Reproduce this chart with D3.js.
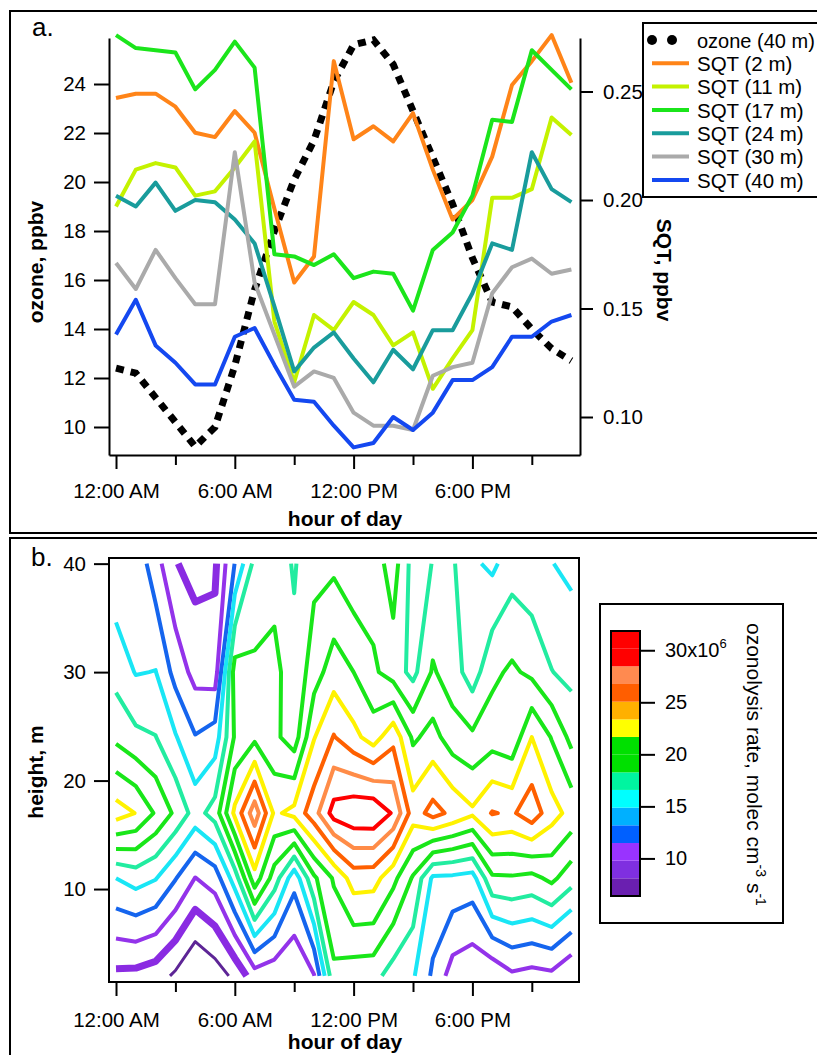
<!DOCTYPE html>
<html>
<head>
<meta charset="utf-8">
<script src="https://cdn.jsdelivr.net/npm/d3@7"></script>
<style>
  html, body { margin: 0; padding: 0; background: #fff; }
  svg { display: block; }
</style>
</head>
<body>
<svg id="fig" width="817" height="1055"></svg>
<script>
// ---------- data: diurnal profiles ----------
const hours = [0, 1, 2, 3, 4, 5, 6, 7, 8, 9, 10, 11, 12, 13, 14, 15, 16, 17, 18, 19, 20, 21, 22, 23];

// ozone at 40 m, ppbv
const ozone40m = [12.4, 12.2, 11.2, 10.2, 9.2, 10.0, 12.5, 15.6, 18.0, 20.1, 21.7, 24.1,
                  25.6, 25.8, 24.8, 22.9, 21.0, 19.1, 16.9, 15.1, 14.9, 14.0, 13.2, 12.7];

// sesquiterpenes (SQT) by inlet height, ppbv
const sqt2m  = [0.247, 0.249, 0.249, 0.243, 0.231, 0.229, 0.241, 0.231, 0.196, 0.162, 0.174, 0.264,
                0.228, 0.234, 0.227, 0.240, 0.214, 0.191, 0.200, 0.220, 0.253, 0.264, 0.276, 0.254];
const sqt11m = [0.197, 0.214, 0.217, 0.215, 0.202, 0.204, 0.215, 0.227, 0.144, 0.116, 0.147, 0.140,
                0.153, 0.147, 0.133, 0.139, 0.113, 0.127, 0.140, 0.201, 0.201, 0.205, 0.238, 0.230];
const sqt17m = [0.276, 0.270, 0.269, 0.268, 0.251, 0.260, 0.273, 0.261, 0.175, 0.174, 0.170, 0.175,
                0.164, 0.167, 0.166, 0.149, 0.177, 0.185, 0.202, 0.237, 0.236, 0.269, 0.260, 0.251];
const sqt24m = [0.202, 0.197, 0.208, 0.195, 0.200, 0.199, 0.191, 0.180, 0.151, 0.121, 0.132, 0.139,
                0.127, 0.116, 0.131, 0.122, 0.140, 0.140, 0.157, 0.180, 0.177, 0.222, 0.205, 0.199];
const sqt30m = [0.171, 0.159, 0.177, 0.164, 0.152, 0.152, 0.222, 0.162, 0.138, 0.114, 0.121, 0.118,
                0.102, 0.096, 0.096, 0.094, 0.119, 0.123, 0.125, 0.157, 0.169, 0.173, 0.166, 0.168];
const sqt40m = [0.138, 0.154, 0.133, 0.125, 0.115, 0.115, 0.137, 0.141, 0.124, 0.108, 0.107, 0.096,
                0.086, 0.088, 0.100, 0.094, 0.102, 0.117, 0.117, 0.123, 0.137, 0.137, 0.144, 0.147];

const sqtNames  = ["SQT (2 m)", "SQT (11 m)", "SQT (17 m)", "SQT (24 m)", "SQT (30 m)", "SQT (40 m)"];
const sqtColors = ["#ff8418", "#c4f200", "#1be51b", "#199c9c", "#aaaaaa", "#1448f0"];

// ozonolysis rate (x10^6 molec cm-3 s-1) by height
const heights  = [2, 11, 17, 24, 30, 40];
const rate2m  = [9.5, 9.4, 9.0, 7.9, 6.4, 7.3, 8.6, 10.8, 10.4, 10.0, 11.5, 18.0,
                 17.4, 17.3, 15.9, 15.2, 13.0, 10.8, 10.3, 10.2, 11.3, 11.0, 11.2, 10.0];
const rate11m = [15.0, 15.7, 15.1, 13.4, 11.55, 12.4, 15.8, 21.1, 17.6, 13.9, 18.1, 20.3,
                 22.6, 22.5, 20.6, 18.2, 14.7, 14.6, 14.3, 18.1, 18.2, 17.9, 18.8, 17.4];
const rate17m = [22.6, 21.75, 19.9, 18.05, 16.0, 17.4, 22.2, 26.2, 21.5, 22.3, 24.5, 27.6,
                 28.2, 28.3, 26.7, 22.65, 24.1, 23.1, 22.1, 23.6, 23.25, 24.5, 22.5, 21.2];
const rate24m = [18.0, 17.1, 16.75, 15.15, 13.4, 14.1, 18.6, 19.7, 18.8, 17.5, 21.7, 23.6,
                 22.3, 21.0, 23.0, 19.8, 20.7, 19.2, 18.7, 19.3, 18.85, 21.8, 20.0, 17.9];
const rate30m = [16.1, 14.9, 15.05, 12.7, 11.0, 10.7, 19.2, 18.7, 19.05, 17.1, 19.3, 21.0,
                 20.1, 18.7, 17.6, 16.2, 18.6, 17.5, 15.85, 18.0, 18.7, 18.0, 16.75, 16.2];
const rate40m = [13.7, 14.5, 12.3, 10.0, 9.3, 9.6, 13.35, 17.2, 17.5, 16.55, 17.9, 18.0,
                 17.0, 17.5, 19.2, 16.0, 16.75, 16.9, 15.3, 14.64, 15.9, 15.5, 15.05, 14.6];

const contourLevels = [8.2, 9.9, 11.6, 13.3, 15.0, 16.7, 18.4, 20.1, 21.8, 23.5, 25.2, 26.9];
const contourColors = ["#5d2596", "#8a2be2", "#9333ea", "#1565ee", "#19e6f5", "#22eca0",
                       "#19e619", "#19e619", "#fff200", "#ff6000", "#ff8c48", "#ff0000"];
const contourWidths = [3, 7, 4, 4, 4, 4, 4, 4, 4, 4, 4, 4];

// color scale bands
const barEdges  = [6.39, 8.09, 9.79, 11.48, 13.18, 14.88, 16.58, 18.27, 19.97, 21.67, 23.36, 25.06, 26.76, 28.46, 30.15, 31.85];
const barColors = ["#6a1fb0", "#7f2fe0", "#9933ff", "#0060ff", "#00b0ff", "#00ffff", "#00f5a0",
                   "#00e000", "#00e000", "#ffff00", "#ffb000", "#ff5e00", "#ff8a50", "#ff0000", "#ff0000"];
const barTicks  = [10, 15, 20, 25, 30];

const hourTicks  = [0, 3, 6, 9, 12, 15, 18, 21];
const hourLabels = { 0: "12:00 AM", 6: "6:00 AM", 12: "12:00 PM", 18: "6:00 PM" };
const ozoneTicks = [10, 12, 14, 16, 18, 20, 22, 24];
const sqtTicks   = [0.10, 0.15, 0.20, 0.25];
const heightTicks = [10, 20, 30, 40];

// ---------- drawing ----------
const FONT = '"Liberation Sans", Arial, Helvetica, sans-serif';
const svg = d3.select("#fig").attr("font-family", FONT);

function styleAxis(g, fs) {
  g.attr("font-family", FONT).attr("font-size", fs);
  g.select(".domain").attr("stroke", "#000").attr("stroke-width", 2);
  g.selectAll(".tick line").attr("stroke", "#000").attr("stroke-width", 2);
  g.selectAll(".tick text").attr("fill", "#000");
}

// panel frames
svg.append("rect").attr("x", 10).attr("y", 11).attr("width", 840).attr("height", 522)
  .attr("fill", "none").attr("stroke", "#000").attr("stroke-width", 2);
svg.append("rect").attr("x", 10).attr("y", 538).attr("width", 840).attr("height", 560)
  .attr("fill", "none").attr("stroke", "#000").attr("stroke-width", 2);

// ===== panel a =====
const xA = d3.scaleLinear().domain([-0.354, 23.434]).range([109, 580]);
const yO = d3.scaleLinear().domain([8.857, 25.878]).range([455, 38]);
const yS = d3.scaleLinear().domain([0.08249, 0.27466]).range([455, 38]);

const axL = svg.append("g").attr("transform", "translate(109,0)")
  .call(d3.axisLeft(yO).tickValues(ozoneTicks).tickSize(15).tickPadding(8).tickSizeOuter(0));
styleAxis(axL, 20.5);

const axR = svg.append("g").attr("transform", "translate(580,0)")
  .call(d3.axisRight(yS).tickValues(sqtTicks).tickFormat(d3.format(".2f")).tickSize(13).tickPadding(10).tickSizeOuter(0));
styleAxis(axR, 20.5);

function hourAxis(yPos, labelY) {
  const g = svg.append("g").attr("transform", `translate(0,${yPos})`)
    .call(d3.axisBottom(xA).tickValues(hourTicks).tickSize(14).tickSizeOuter(0)
      .tickFormat(h => hourLabels[h] || ""));
  styleAxis(g, 20.5);
  g.selectAll(".tick line").attr("y2", h => hourLabels[h] !== undefined ? 14 : 10);
  g.selectAll(".tick text").attr("dy", null).attr("y", labelY);
  return g;
}
hourAxis(455, 43);

// axis titles
svg.append("text").attr("transform", "translate(43,262) rotate(-90)")
  .attr("text-anchor", "middle").attr("font-weight", "bold").attr("font-size", 21).text("ozone, ppbv");
svg.append("text").attr("transform", "translate(657,270) rotate(90)")
  .attr("text-anchor", "middle").attr("font-weight", "bold").attr("font-size", 21).text("SQT, ppbv");
svg.append("text").attr("x", 345).attr("y", 526)
  .attr("text-anchor", "middle").attr("font-weight", "bold").attr("font-size", 21).text("hour of day");
svg.append("text").attr("x", 32).attr("y", 36).attr("font-size", 26).text("a.");

// ozone (dotted) and SQT lines
const lineO = d3.line().x((d, i) => xA(hours[i])).y(d => yO(d));
const lineS = d3.line().x((d, i) => xA(hours[i])).y(d => yS(d));

svg.append("path").datum(ozone40m).attr("d", lineO)
  .attr("fill", "none").attr("stroke", "#000").attr("stroke-width", 7)
  .attr("stroke-dasharray", "8,7");

const sqtSeries = [sqt2m, sqt11m, sqt17m, sqt24m, sqt30m, sqt40m];
sqtSeries.forEach((s, k) => {
  svg.append("path").datum(s).attr("d", lineS)
    .attr("fill", "none").attr("stroke", sqtColors[k]).attr("stroke-width", 4)
    .attr("stroke-linejoin", "round");
});

// legend
const leg = svg.append("g");
leg.append("rect").attr("x", 643).attr("y", 23).attr("width", 220).attr("height", 174)
  .attr("fill", "#fff").attr("stroke", "#000").attr("stroke-width", 2);
const legRows = [40, 63.3, 86.6, 110, 133.3, 156.6, 180];
leg.append("circle").attr("cx", 652).attr("cy", legRows[0]).attr("r", 5).attr("fill", "#000");
leg.append("circle").attr("cx", 672).attr("cy", legRows[0]).attr("r", 5).attr("fill", "#000");
leg.append("text").attr("x", 697).attr("y", legRows[0] + 7.5).attr("font-size", 20).text("ozone (40 m)");
sqtNames.forEach((name, k) => {
  const y = legRows[k + 1];
  leg.append("line").attr("x1", 652).attr("x2", 689).attr("y1", y).attr("y2", y)
    .attr("stroke", sqtColors[k]).attr("stroke-width", 4);
  leg.append("text").attr("x", 697).attr("y", y + 7.5).attr("font-size", 20.5).text(name);
});

// ===== panel b =====
const yB = d3.scaleLinear().domain([1.43, 40.52]).range([982, 558]);

svg.append("defs").append("clipPath").attr("id", "plotB")
  .append("rect").attr("x", 109).attr("y", 558).attr("width", 470).attr("height", 424);

const gC = svg.append("g").attr("clip-path", "url(#plotB)");

const nx = hours.length, ny = heights.length;
const rateRows = [rate2m, rate11m, rate17m, rate24m, rate30m, rate40m];
const gridValues = rateRows.flat();
const contourSets = d3.contours().size([nx, ny]).thresholds(contourLevels)(gridValues);

// grid coordinates from d3.contours place sample (i, j) at (i + 0.5, j + 0.5)
function gridToHour(c) {
  const t = Math.min(Math.max(c - 0.5, 0), nx - 1);
  const k = Math.min(Math.floor(t), nx - 2);
  return hours[k] + (t - k) * (hours[k + 1] - hours[k]);
}
function gridToHeight(c) {
  const t = Math.min(Math.max(c - 0.5, 0), ny - 1);
  const k = Math.min(Math.floor(t), ny - 2);
  return heights[k] + (t - k) * (heights[k + 1] - heights[k]);
}
const eps = 1e-6;
const onBorder = p => p[0] < eps || p[0] > nx - eps || p[1] < eps || p[1] > ny - eps;

// turn closed isoband rings into isolines that stop at the data edge
function ringToLines(ring) {
  const pts = ring.slice();
  const a = pts[0], b = pts[pts.length - 1];
  if (a[0] === b[0] && a[1] === b[1]) pts.pop();
  const n = pts.length;
  const s = pts.findIndex(onBorder);
  if (s < 0) return [{ closed: true, pts }];
  const runs = [];
  let cur = [];
  for (let k = 1; k <= n; k++) {
    const p = pts[(s + k) % n];
    if (onBorder(p)) {
      if (cur.length > 1) runs.push({ closed: false, pts: cur });
      cur = [];
    } else cur.push(p);
  }
  if (cur.length > 1) runs.push({ closed: false, pts: cur });
  return runs;
}

const lineB = d3.line().x(p => xA(gridToHour(p[0]))).y(p => yB(gridToHeight(p[1])));

contourSets.forEach((mp, li) => {
  mp.coordinates.forEach(poly => poly.forEach(ring => {
    ringToLines(ring).forEach(r => {
      gC.append("path")
        .attr("d", lineB(r.pts) + (r.closed ? "Z" : ""))
        .attr("fill", "none")
        .attr("stroke", contourColors[li])
        .attr("stroke-width", contourWidths[li])
        .attr("stroke-linejoin", "round");
    });
  }));
});

// plot box and axes
svg.append("rect").attr("x", 109).attr("y", 558).attr("width", 470).attr("height", 424)
  .attr("fill", "none").attr("stroke", "#000").attr("stroke-width", 2);

const axB = svg.append("g").attr("transform", "translate(109,0)")
  .call(d3.axisLeft(yB).tickValues(heightTicks).tickSize(15).tickPadding(8).tickSizeOuter(0));
styleAxis(axB, 20.5);
axB.select(".domain").remove();

hourAxis(982, 45).select(".domain").remove();

svg.append("text").attr("transform", "translate(43,772) rotate(-90)")
  .attr("text-anchor", "middle").attr("font-weight", "bold").attr("font-size", 21).text("height, m");
svg.append("text").attr("x", 345).attr("y", 1049)
  .attr("text-anchor", "middle").attr("font-weight", "bold").attr("font-size", 21).text("hour of day");
svg.append("text").attr("x", 31).attr("y", 566).attr("font-size", 26).text("b.");

// color scale
const yC = d3.scaleLinear().domain([barEdges[0], barEdges[barEdges.length - 1]]).range([896, 631]);
svg.append("rect").attr("x", 600).attr("y", 604).attr("width", 183).attr("height", 319)
  .attr("fill", "#fff").attr("stroke", "#000").attr("stroke-width", 2);
barColors.forEach((c, k) => {
  svg.append("rect").attr("x", 611).attr("width", 29)
    .attr("y", yC(barEdges[k + 1])).attr("height", yC(barEdges[k]) - yC(barEdges[k + 1]))
    .attr("fill", c);
});
svg.append("rect").attr("x", 611).attr("y", yC(barEdges[barEdges.length - 1])).attr("width", 29)
  .attr("height", yC(barEdges[0]) - yC(barEdges[barEdges.length - 1]))
  .attr("fill", "none").attr("stroke", "#000").attr("stroke-width", 2);

const axC = svg.append("g").attr("transform", "translate(640,0)")
  .call(d3.axisRight(yC).tickValues(barTicks).tickSize(15).tickPadding(10).tickSizeOuter(0));
styleAxis(axC, 20);
axC.select(".domain").remove();
axC.selectAll(".tick text").filter(d => d === 30).text("30x10")
  .append("tspan").attr("dy", -9).attr("font-size", 13).text("6");

const ct = svg.append("text").attr("transform", "translate(747,623) rotate(90)")
  .attr("font-size", 21);
ct.append("tspan").text("ozonolysis rate, molec cm");
ct.append("tspan").attr("dy", -9).attr("font-size", 14).text("-3");
ct.append("tspan").attr("dy", 9).text(" s");
ct.append("tspan").attr("dy", -9).attr("font-size", 14).text("-1");
</script>
</body>
</html>
